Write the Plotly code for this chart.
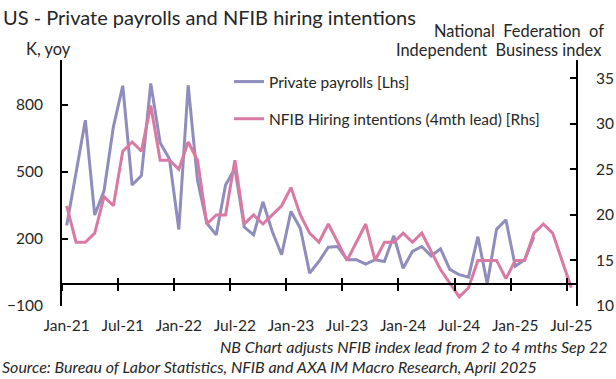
import pandas as pd
import plotly.graph_objects as go

months = list(pd.date_range("2021-01-01", "2025-07-01", freq="MS").strftime("%b-%y"))

# Private payrolls, K (Jan-21 .. Mar-25)
payrolls = [260, 490, 731, 307, 415, 701, 885, 441, 483, 895, 630, 557,
            242, 887, 462, 270, 218, 441, 515, 253, 218, 366, 233, 129,
            323, 248, 47, 100, 163, 166, 107, 107, 87, 107, 99, 214,
            69, 144, 166, 124, 156, 64, 40, 29, 210, 0, 243, 285,
            78, 107, 209]

# NFIB hiring intentions, 4-month lead (Jan-21 .. Jul-25)
nfib = [21, 17, 17, 18, 22, 21, 27, 28, 27, 32, 26, 26,
        25, 28, 26, 19, 20, 20, 26, 19, 20, 19, 20, 21,
        23, 20, 18, 17, 19, 17, 15, 17, 19, 15, 17, 17,
        18, 17, 18, 16, 14, 12.5, 11, 12, 15, 15, 15, 13,
        15, 15, 18, 19, 18, 15, 12]

left_range = [-100, 1000]
right_range = [10, 37]

FONT = "Lato"
TXT = "#262626"
PURPLE = "#8f8dbb"
PINK = "#da7aa2"

zero_pos = (0 - left_range[0]) / (left_range[1] - left_range[0])

fig = go.Figure()
fig.add_trace(go.Scatter(x=months[:len(payrolls)], y=payrolls, mode="lines",
                         name="Private payrolls [Lhs]", legendgroup="a",
                         line=dict(color=PURPLE, width=3)))
fig.add_trace(go.Scatter(x=months[:len(nfib)], y=nfib, mode="lines", yaxis="y2",
                         name="NFIB Hiring intentions (4mth lead) [Rhs]", legendgroup="b",
                         line=dict(color=PINK, width=3)))
# carrier trace for the inner half of the crossing x ticks
fig.add_trace(go.Scatter(x=months, y=[None] * len(months), xaxis="x2", mode="lines",
                         showlegend=False, hoverinfo="skip"))

xcommon = dict(type="category", categoryorder="array", categoryarray=months,
               range=[-0.5, len(months) - 0.5], tickmode="linear", tick0=0, dtick=6,
               tickson="boundaries", showgrid=False, zeroline=False, tickangle=0,
               anchor="free", position=zero_pos, tickcolor="black", tickwidth=1.5,
               automargin=False)

fig.update_layout(
    width=616, height=379,
    margin=dict(l=62, r=40, t=60, b=73, autoexpand=False),
    paper_bgcolor="white", plot_bgcolor="white",
    font=dict(family=FONT, size=15.5, color=TXT),
    showlegend=True,
    xaxis=dict(**xcommon, showline=True, linecolor="black", linewidth=2,
               ticks="outside", ticklen=6, ticklabelstandoff=28,
               tickfont=dict(family=FONT, size=15.5, color=TXT)),
    xaxis2=dict(**xcommon, overlaying="x", showline=False, ticks="inside", ticklen=6,
                showticklabels=False),
    yaxis=dict(range=left_range, tickmode="linear", tick0=-100, dtick=300,
               showgrid=False, zeroline=False, showline=True, linecolor="black",
               linewidth=2, ticks="inside", ticklen=6, tickcolor="black", tickwidth=1.5,
               ticklabelstandoff=14, automargin=False,
               tickfont=dict(family=FONT, size=15.5, color=TXT)),
    yaxis2=dict(range=right_range, tickmode="linear", tick0=10, dtick=5,
                overlaying="y", side="right", showgrid=False, zeroline=False,
                showline=True, linecolor="black", linewidth=2, ticks="inside",
                ticklen=6, tickcolor="black", tickwidth=1.5, ticklabelstandoff=15,
                automargin=False, tickfont=dict(family=FONT, size=15.5, color=TXT)),
    legend=dict(x=(229 - 62) / 514, y=(306 - 65) / 246, xanchor="left", yanchor="top",
                bgcolor="rgba(0,0,0,0)", tracegroupgap=14,
                font=dict(family=FONT, size=15.5, color=TXT)),
    title=dict(text="US - Private payrolls and NFIB hiring intentions",
               x=3 / 616, y=1 - 18 / 379, xref="container", yref="container",
               xanchor="left", yanchor="middle",
               font=dict(family=FONT, size=20, color=TXT)),
)


def note(text, px, py, size, anchor="left"):
    fig.add_annotation(text=text, x=(px - 62) / 514, y=(306 - py) / 246,
                       xref="paper", yref="paper", showarrow=False,
                       xanchor=anchor, yanchor="middle",
                       font=dict(family=FONT, size=size, color=TXT))


note("K, yoy", 24, 49, 16.5)
note("National&nbsp;&nbsp;Federation&nbsp;&nbsp;of", 432, 31, 16.4)
note("Independent&nbsp;&nbsp;Business index", 394, 49, 16.4)
note("<i>NB Chart adjusts NFIB index lead from 2 to 4 mths Sep 22</i>", 218, 346, 16)
note("<i>Source: Bureau of Labor Statistics, NFIB and AXA IM Macro Research, April 2025</i>",
     0, 366, 16)

fig.write_html("out.html", config={"displayModeBar": False},
               post_script="document.body.style.margin='0px';")
